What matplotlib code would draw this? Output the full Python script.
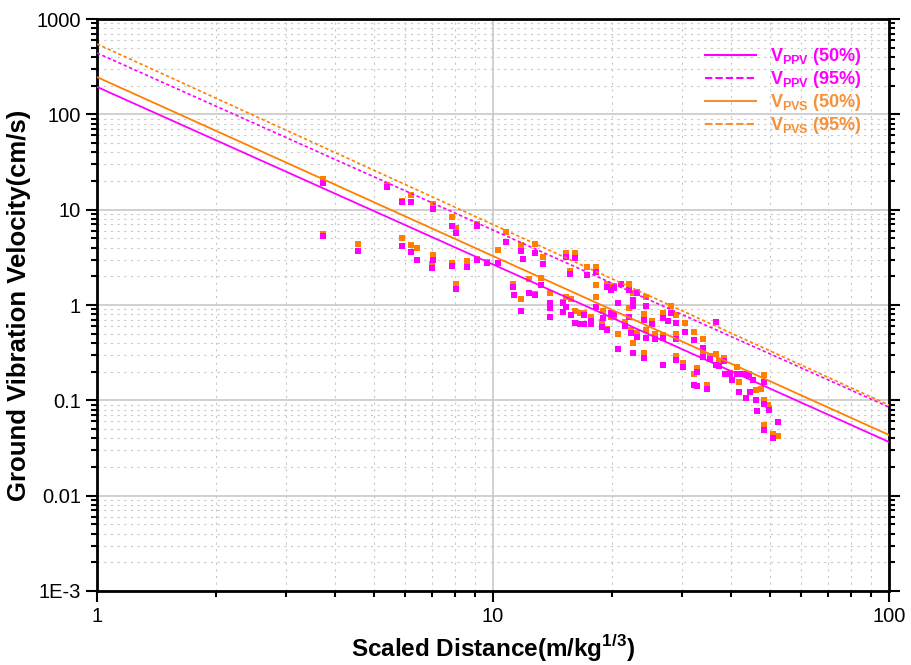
import numpy as np
import matplotlib
matplotlib.use("Agg")
import matplotlib.pyplot as plt
from matplotlib.lines import Line2D
from matplotlib.ticker import FixedLocator, FixedFormatter, LogLocator, NullFormatter

plt.rcParams['font.family'] = ['Liberation Sans', 'DejaVu Sans']

# scatter data: scaled distance, PVS (orange), PPV (magenta)
sd_pair = [3.72, 3.72, 4.55, 5.39, 5.90, 6.21, 5.90, 6.21, 6.43, 7.04,
           7.04, 7.02, 7.87, 8.05, 7.87, 8.05, 9.10, 8.58, 9.10, 9.68,
           10.3, 10.8, 11.8, 12.8, 13.4, 11.2, 11.8, 12.3, 12.8, 13.2,
           13.9, 15.3, 16.1, 15.6, 15.0, 15.3, 15.7, 16.1, 16.6, 17.0,
           17.3, 17.7, 18.2, 18.2, 18.8, 19.0, 19.4, 19.4, 19.8, 19.8,
           20.2, 20.2, 21.1, 21.5, 22.0, 22.0, 22.3, 22.6, 22.6, 23.1,
           23.1, 24.1, 24.1, 24.3, 24.3, 25.2, 25.7, 26.8, 26.8, 27.6,
           28.1, 29.0, 29.0, 29.0, 30.1, 30.6, 32.2, 32.2, 32.7, 33.9,
           33.9, 34.8, 35.4, 36.5, 37.2, 38.2, 39.6, 41.4, 41.8, 44.4,
           46.1, 48.2, 48.4, 49.9, 48.2, 50.8]
pvs_pair = [21.0, 5.56, 4.33, 18.2, 12.3, 14.2, 5.04, 4.26, 3.96, 11.4,
            3.34, 2.71, 8.43, 6.42, 2.78, 1.67, 7.02, 2.92, 3.03, 2.83,
            3.78, 5.80, 4.26, 4.33, 3.16, 1.66, 1.15, 1.86, 1.30, 1.93,
            1.35, 3.53, 3.53, 2.28, 1.08, 1.22, 1.15, 0.871, 0.818, 0.830,
            2.52, 0.743, 2.49, 1.20, 0.668, 0.871, 1.66, 0.556, 1.53, 0.743,
            1.58, 0.754, 1.66, 0.668, 1.66, 0.923, 0.547, 0.396, 1.33, 0.512,
            1.36, 0.805, 0.311, 1.22, 0.547, 0.685, 0.50, 0.818, 0.49, 0.685,
            0.976, 0.785, 0.50, 0.29, 0.248, 0.64, 0.525, 0.189, 0.22, 0.44,
            0.311, 0.145, 0.292, 0.304, 0.258, 0.276, 0.192, 0.225, 0.157, 0.19,
            0.128, 0.185, 0.101, 0.0805, 0.055, 0.0444]
ppv_pair = [19.2, 5.33, 3.68, 17.4, 11.9, 11.9, 4.13, 3.57, 2.94, 10.2,
            2.96, 2.43, 6.82, 5.65, 2.56, 1.47, 6.82, 2.52, 2.96, 2.78,
            2.78, 4.61, 3.72, 3.48, 2.69, 1.56, 0.871, 1.33, 1.27, 1.62,
            1.06, 3.16, 3.13, 2.10, 1.04, 0.959, 0.785, 0.652, 0.632, 0.785,
            2.06, 0.679, 2.24, 0.959, 0.592, 0.725, 1.56, 0.547, 1.44, 0.830,
            1.50, 0.805, 1.66, 0.602, 1.44, 0.743, 0.512, 0.311, 1.13, 0.465,
            1.35, 0.696, 0.276, 0.976, 0.454, 0.627, 0.44, 0.725, 0.45, 0.685,
            0.830, 0.652, 0.44, 0.265, 0.222, 0.525, 0.43, 0.145, 0.20, 0.351,
            0.282, 0.131, 0.27, 0.234, 0.229, 0.258, 0.189, 0.189, 0.123, 0.185,
            0.101, 0.157, 0.0914, 0.0791, 0.0489, 0.040]

# points visible for only one of the two series
sd_ppv_only = [11.9, 11.3, 13.9, 13.9, 15.0, 17.0, 17.7, 20.7, 20.7, 22.6,
               26.8, 32.7, 36.5, 38.5, 40.2, 42.7, 43.5, 44.6, 45.4, 46.5, 52.4]
ppv_only = [3.03, 1.27, 0.937, 0.754, 0.851, 0.632, 0.632, 1.06, 0.345, 0.976,
            0.234, 0.141, 0.668, 0.187, 0.163, 0.189, 0.105, 0.121, 0.163, 0.0773, 0.0597]
sd_pvs_only = [18.2, 20.7, 47.4, 49.4, 52.4]
pvs_only = [1.62, 0.496, 0.131, 0.0894, 0.042]

# regression lines (values at SD = 1 and SD = 100)
line_sd = [1, 100]
ppv_50 = [194, 0.0366]
ppv_95 = [440, 0.0849]
pvs_50 = [246, 0.0433]
pvs_95 = [547, 0.0891]

y_ticks = [1e-3, 1e-2, 1e-1, 1, 10, 100, 1000]
y_labels = ['1E-3', '0.01', '0.1', '1', '10', '100', '1000']
x_ticks = [1, 10, 100]
x_labels = ['1', '10', '100']

magenta = '#FF00FF'
orange = '#FF8000'
orange_txt = '#F5913A'

fig = plt.figure(figsize=(9.12, 6.65), dpi=100)
ax = fig.add_axes([0.1064, 0.1113, 0.8684, 0.8601])
ax.set_xscale('log')
ax.set_yscale('log')
ax.set_xlim(1, 100)
ax.set_ylim(1e-3, 1000)

ax.grid(True, which='major', color='#c8c8c8', lw=1.2, ls='-', zorder=0)
ax.grid(True, which='minor', color='#c8c8c8', lw=0.8, ls=(0, (2, 4)), zorder=0)
ax.set_axisbelow(True)

ax.scatter(sd_pair, pvs_pair, marker='s', s=20, color=orange, lw=0, zorder=3)
ax.scatter(sd_pvs_only, pvs_only, marker='s', s=20, color=orange, lw=0, zorder=3)
ax.scatter(sd_pair, ppv_pair, marker='s', s=20, color=magenta, lw=0, zorder=4)
ax.scatter(sd_ppv_only, ppv_only, marker='s', s=20, color=magenta, lw=0, zorder=4)

ax.plot(line_sd, ppv_50, color=magenta, lw=1.3, zorder=5)
ax.plot(line_sd, ppv_95, color=magenta, lw=1.2, ls=(0, (2, 1.5)), zorder=5)
ax.plot(line_sd, pvs_50, color=orange, lw=1.3, zorder=5)
ax.plot(line_sd, pvs_95, color=orange, lw=1.2, ls=(0, (2, 1.5)), zorder=5)

ax.yaxis.set_major_locator(FixedLocator(y_ticks))
ax.yaxis.set_major_formatter(FixedFormatter(y_labels))
ax.yaxis.set_minor_locator(LogLocator(base=10, subs=np.arange(2, 10), numticks=20))
ax.yaxis.set_minor_formatter(NullFormatter())
ax.xaxis.set_major_locator(FixedLocator(x_ticks))
ax.xaxis.set_major_formatter(FixedFormatter(x_labels))
ax.xaxis.set_minor_locator(LogLocator(base=10, subs=np.arange(2, 10), numticks=20))
ax.xaxis.set_minor_formatter(NullFormatter())

ax.tick_params(which='major', direction='out', length=8, width=1.5, labelsize=14.5, right=True, top=False)
ax.tick_params(which='minor', direction='out', length=4.5, width=1.5, right=True, top=False)
for sp in ax.spines.values():
    sp.set_linewidth(2)

ax.set_xlabel('Scaled Distance(m/kg$^{\\mathregular{1/3}}$)', fontsize=17.5, fontweight='bold', labelpad=5)
ax.set_ylabel('Ground Vibration Velocity(cm/s)', fontsize=18.5, fontweight='bold', labelpad=4)

handles = [Line2D([], [], color=magenta, lw=1.5),
           Line2D([], [], color=magenta, lw=1.5, ls=(0, (3.5, 1.5))),
           Line2D([], [], color=orange_txt, lw=1.5),
           Line2D([], [], color=orange_txt, lw=1.5, ls=(0, (3.5, 1.5)))]
labels = ['$\\mathregular{V_{PPV}}$ (50%)', '$\\mathregular{V_{PPV}}$ (95%)',
          '$\\mathregular{V_{PVS}}$ (50%)', '$\\mathregular{V_{PVS}}$ (95%)']
leg = ax.legend(handles, labels, loc='upper left', bbox_to_anchor=(0.752, 0.975),
                frameon=False, prop={'weight': 'bold', 'size': 13},
                handlelength=2.8, handletextpad=0.8, labelspacing=0.12, borderpad=0.2)
for t, c in zip(leg.get_texts(), [magenta, magenta, orange_txt, orange_txt]):
    t.set_color(c)

fig.savefig('out.png', dpi=100)
